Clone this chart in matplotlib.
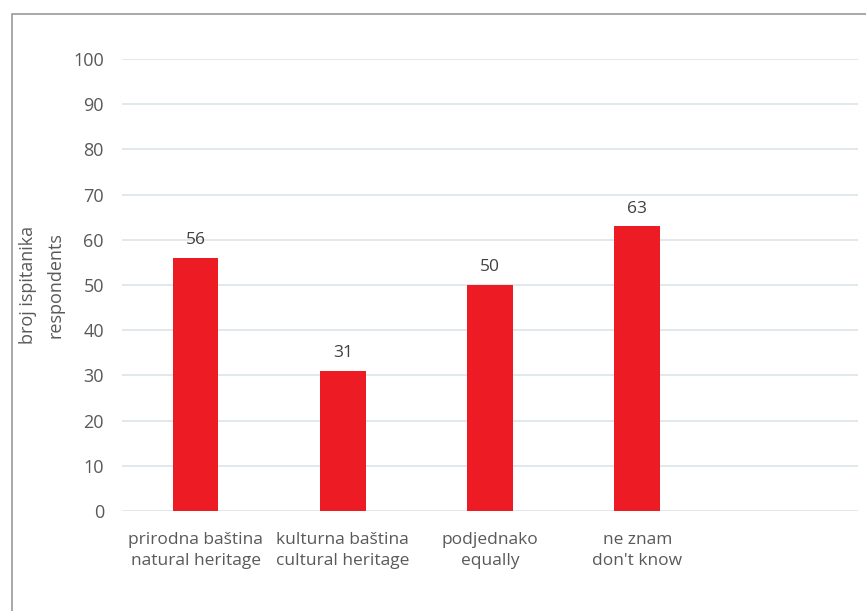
import matplotlib.pyplot as plt
from matplotlib.patches import Rectangle

plt.rcParams['font.family'] = ['Open Sans', 'DejaVu Sans']

categories = ['prirodna baština\nnatural heritage', 'kulturna baština\ncultural heritage',
              'podjednako\nequally', 'ne znam\ndon\'t know', '']
values = [56, 31, 50, 63]
yticks = list(range(0, 101, 10))

bar_red = '#ED1C24'
txt_gray = '#595959'
grid_col = '#E2E9ED'

fig = plt.figure(figsize=(8.66, 6.11), dpi=100)
ax = fig.add_axes([122/866, 1 - 511/611, 736/866, 452/611])

pos = list(range(len(categories)))
bars = ax.bar(pos[:len(values)], values, width=0.31, color=bar_red, zorder=3)
for b, v in zip(bars, values):
    ax.annotate(str(v), (b.get_x() + b.get_width()/2, v), xytext=(0, 7),
                textcoords='offset points', ha='center', va='bottom',
                fontsize=12.5, color='#404040')

ax.set_xlim(-0.5, len(categories) - 0.5)
ax.set_ylim(0, 100)
ax.set_yticks(yticks)
ax.set_xticks(pos, categories, linespacing=1.45)
ax.yaxis.grid(True, color=grid_col, linewidth=1.4, zorder=0)
for s in ax.spines.values():
    s.set_visible(False)
ax.tick_params(axis='y', length=0, pad=13, labelsize=13, labelcolor=txt_gray)
ax.tick_params(axis='x', length=0, pad=15, labelsize=12.5, labelcolor=txt_gray)

# y title placed by hand so it sits between frame and tick labels
fig.text(42/866, 1 - 285/611, 'broj ispitanika\nrespondents', rotation=90,
         ha='center', va='center', fontsize=13, color=txt_gray, linespacing=1.65)

# thin frame around the figure
fig.patches.append(Rectangle((12/866, -0.1), 1.0, 1 - 14/611 + 0.1,
                             transform=fig.transFigure, fill=False,
                             edgecolor='#9A9A9A', linewidth=1.2))

fig.savefig('out.png', dpi=100)
